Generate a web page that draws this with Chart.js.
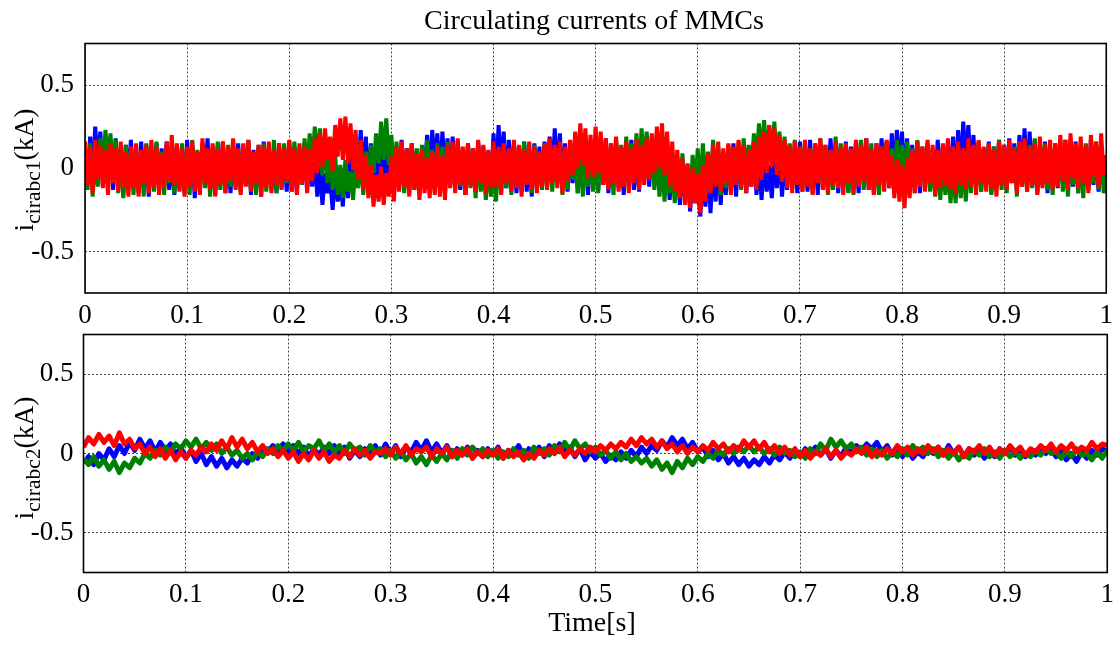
<!DOCTYPE html>
<html>
<head>
<meta charset="utf-8">
<script src="https://cdn.jsdelivr.net/npm/chart.js@4.4.1/dist/chart.umd.min.js"></script>
<style>
  html, body { margin: 0; padding: 0; background: #fff; }
  #wrap { position: relative; width: 1120px; height: 646px; overflow: hidden; background: #fff; }
  canvas { position: absolute; left: 0; top: 0; }
  .txt { position: absolute; font-family: "Liberation Serif", "Times New Roman", serif; color: #000; white-space: nowrap; }
  .title { font-size: 28px; line-height: 28px; }
  .ylab { font-size: 27.5px; line-height: 28px; transform: translate(-50%, -50%) rotate(-90deg); }
  .ylab .sb { font-size: 21.5px; position: relative; top: 7px; }
</style>
</head>
<body>
<div id="wrap">
  <canvas id="c1" width="1120" height="646"></canvas>
  <canvas id="c2" width="1120" height="646"></canvas>
  <div class="txt title" id="ttl" style="left:594px; top:6px; transform:translateX(-50%);">Circulating currents of MMCs</div>
  <div class="txt title" id="xlab" style="left:592px; top:608px; transform:translateX(-50%);">Time[s]</div>
  <div class="txt ylab" style="left:25px; top:170px;">i<span class="sb">cirabc1</span>(kA)</div>
  <div class="txt ylab" style="left:25px; top:458px;">i<span class="sb">cirabc2</span>(kA)</div>
</div>
<script>
// ---- data ----
const TIME_STEP_1 = 0.0025;   // sample step of MMC1 traces (401 samples, t = 0 ... 1 s)
const TIME_STEP_2 = 0.005;    // sample step of MMC2 traces (201 samples, t = 0 ... 1 s)
const xTicks = [0, 0.1, 0.2, 0.3, 0.4, 0.5, 0.6, 0.7, 0.8, 0.9, 1];
const xTickLabels = ['0', '0.1', '0.2', '0.3', '0.4', '0.5', '0.6', '0.7', '0.8', '0.9', '1'];
const yTicks = [-0.5, 0, 0.5];
const yTickLabels = ['-0.5', '0', '0.5'];

// MMC1 circulating currents (kA), one row = 0.05 s
const blue1 = [
  0.11, -0.09, 0.19, -0.05, 0.25, 0.02, 0.22, -0.11, 0.20, -0.07, 0.15, -0.13, 0.18, -0.09, 0.12, -0.16, 0.14, -0.04, 0.17, -0.12,
  0.10, -0.15, 0.16, -0.08, 0.13, -0.17, 0.09, -0.11, 0.15, -0.14, 0.12, -0.07, 0.16, -0.13, 0.08, -0.16, 0.14, -0.10, 0.11, -0.15,
  0.17, -0.09, 0.13, -0.18, 0.10, -0.12, 0.15, -0.08, 0.18, -0.14, 0.11, -0.16, 0.14, -0.10, 0.16, -0.13, 0.09, -0.15, 0.13, -0.11,
  0.15, -0.14, 0.12, -0.08, 0.17, -0.16, 0.11, -0.12, 0.14, -0.17, 0.16, -0.09, 0.13, -0.13, 0.10, -0.15, 0.15, -0.07, 0.12, -0.14,
  0.16, -0.10, 0.13, -0.15, 0.11, -0.08, 0.15, -0.13, 0.09, -0.11, 0.06, -0.17, 0.02, -0.22, -0.03, -0.15, -0.06, -0.25, -0.02, -0.20,
  -0.07, -0.23, 0.03, -0.18, 0.09, -0.11, 0.18, -0.05, 0.23, -0.08, 0.19, -0.13, 0.15, -0.09, 0.12, -0.15, 0.16, -0.07, 0.13, -0.12,
  0.14, -0.16, 0.11, -0.09, 0.17, -0.13, 0.12, -0.15, 0.15, -0.10, 0.09, -0.14, 0.13, -0.04, 0.20, -0.06, 0.23, 0.00, 0.21, -0.08,
  0.22, -0.04, 0.18, -0.11, 0.19, -0.09, 0.14, -0.13, 0.11, -0.16, 0.15, -0.10, 0.12, -0.14, 0.16, -0.08, 0.13, -0.15, 0.10, -0.11,
  0.21, -0.06, 0.26, -0.03, 0.22, -0.12, 0.17, -0.09, 0.14, -0.15, 0.12, -0.11, 0.16, -0.14, 0.11, -0.17, 0.15, -0.09, 0.13, -0.12,
  0.16, -0.10, 0.19, -0.05, 0.24, -0.07, 0.21, -0.11, 0.15, -0.14, 0.12, -0.09, 0.17, -0.15, 0.10, -0.12, 0.14, -0.16, 0.11, -0.08,
  0.15, -0.13, 0.12, -0.10, 0.18, -0.15, 0.13, -0.08, 0.16, -0.12, 0.10, -0.16, 0.14, -0.09, 0.17, -0.13, 0.11, -0.14, 0.15, -0.07,
  0.13, -0.11, 0.19, -0.08, 0.20, -0.13, 0.12, -0.16, 0.08, -0.19, 0.04, -0.15, 0.06, -0.22, -0.01, -0.18, 0.00, -0.26, -0.05, -0.21,
  -0.09, -0.29, -0.04, -0.23, 0.02, -0.27, 0.05, -0.20, 0.09, -0.22, 0.07, -0.16, 0.12, -0.13, 0.15, -0.17, 0.11, -0.09, 0.14, -0.15,
  0.12, -0.11, 0.15, -0.16, 0.04, -0.19, 0.08, -0.14, 0.02, -0.18, 0.07, -0.12, 0.11, -0.17, 0.05, -0.13, 0.14, -0.10, 0.12, -0.15,
  0.16, -0.09, 0.13, -0.14, 0.17, -0.12, 0.11, -0.16, 0.15, -0.08, 0.12, -0.13, 0.18, -0.10, 0.14, -0.15, 0.10, -0.11, 0.16, -0.14,
  0.13, -0.09, 0.17, -0.15, 0.12, -0.07, 0.18, -0.13, 0.11, -0.16, 0.15, -0.10, 0.18, -0.08, 0.16, -0.12, 0.21, -0.05, 0.23, -0.02,
  0.22, -0.09, 0.18, -0.13, 0.14, -0.11, 0.16, -0.15, 0.12, -0.08, 0.15, -0.13, 0.11, -0.10, 0.17, -0.14, 0.13, -0.07, 0.16, -0.12,
  0.19, -0.08, 0.23, -0.04, 0.28, 0.01, 0.26, -0.06, 0.20, -0.11, 0.15, -0.14, 0.12, -0.09, 0.16, -0.15, 0.13, -0.12, 0.17, -0.10,
  0.14, -0.13, 0.18, -0.08, 0.15, -0.12, 0.20, -0.05, 0.24, -0.09, 0.22, -0.11, 0.17, -0.14, 0.13, -0.10, 0.16, -0.15, 0.12, -0.08,
  0.15, -0.12, 0.13, -0.09, 0.17, -0.14, 0.11, -0.11, 0.16, -0.15, 0.14, -0.08, 0.12, -0.13, 0.17, -0.10, 0.15, -0.14, 0.11, -0.09,
  0.05
];
const green1 = [
  0.04, -0.13, 0.15, -0.17, 0.08, -0.11, 0.18, -0.03, 0.23, 0.04, 0.21, -0.09, 0.17, -0.15, 0.12, -0.18, 0.14, -0.10, 0.11, -0.16,
  0.13, -0.12, 0.09, -0.17, 0.15, -0.08, 0.12, -0.14, 0.16, -0.11, 0.10, -0.16, 0.14, -0.09, 0.13, -0.15, 0.08, -0.13, 0.15, -0.10,
  0.12, -0.16, 0.17, -0.09, 0.11, -0.14, 0.15, -0.12, 0.09, -0.17, 0.13, -0.08, 0.16, -0.13, 0.10, -0.15, 0.14, -0.11, 0.17, -0.09,
  0.11, -0.15, 0.14, -0.10, 0.16, -0.13, 0.09, -0.16, 0.13, -0.08, 0.15, -0.14, 0.12, -0.11, 0.17, -0.15, 0.10, -0.12, 0.15, -0.09,
  0.13, -0.14, 0.16, -0.07, 0.12, -0.10, 0.18, -0.03, 0.21, 0.01, 0.25, 0.04, 0.24, -0.04, 0.20, -0.09, 0.15, -0.13, 0.08, -0.16,
  0.02, -0.18, 0.05, -0.14, -0.02, -0.19, 0.04, -0.12, 0.08, -0.16, 0.10, -0.07, 0.14, -0.03, 0.21, 0.03, 0.28, 0.05, 0.30, 0.02,
  0.20, -0.06, 0.16, -0.12, 0.13, -0.15, 0.10, -0.09, 0.15, -0.13, 0.12, -0.16, 0.14, -0.08, 0.17, -0.12, 0.11, -0.14, 0.15, -0.10,
  0.13, -0.15, 0.16, -0.09, 0.12, -0.13, 0.17, -0.11, 0.10, -0.16, 0.14, -0.12, 0.09, -0.18, 0.11, -0.14, 0.06, -0.19, 0.04, -0.17,
  0.07, -0.20, 0.11, -0.15, 0.14, -0.12, 0.09, -0.16, 0.15, -0.10, 0.13, -0.14, 0.16, -0.09, 0.11, -0.15, 0.14, -0.12, 0.10, -0.13,
  0.15, -0.11, 0.17, -0.14, 0.12, -0.09, 0.14, -0.16, 0.10, -0.13, 0.16, -0.07, 0.13, -0.15, 0.11, -0.17, 0.15, -0.11, 0.13, -0.14,
  0.12, -0.15, 0.16, -0.09, 0.11, -0.13, 0.15, -0.16, 0.18, -0.10, 0.14, -0.07, 0.19, -0.11, 0.15, -0.03, 0.21, -0.05, 0.24, 0.00,
  0.22, -0.04, 0.17, -0.13, 0.10, -0.17, 0.04, -0.20, 0.07, -0.15, 0.01, -0.21, 0.05, -0.18, 0.09, -0.15, 0.02, -0.19, 0.08, -0.13,
  0.12, -0.16, 0.15, -0.11, 0.10, -0.14, 0.17, -0.09, 0.13, -0.16, 0.07, -0.12, 0.14, -0.15, 0.11, -0.09, 0.16, -0.13, 0.18, -0.05,
  0.14, -0.02, 0.21, 0.03, 0.27, 0.06, 0.29, 0.04, 0.26, 0.02, 0.28, 0.00, 0.22, -0.04, 0.19, -0.08, 0.15, -0.12, 0.17, -0.07,
  0.13, -0.14, 0.16, -0.10, 0.12, -0.15, 0.15, -0.08, 0.18, -0.12, 0.14, -0.16, 0.11, -0.13, 0.19, -0.09, 0.15, -0.11, 0.13, -0.15,
  0.11, -0.16, 0.14, -0.10, 0.17, -0.13, 0.12, -0.08, 0.15, -0.14, 0.10, -0.16, 0.13, -0.11, 0.16, -0.09, 0.12, -0.15, 0.17, -0.12,
  0.14, -0.09, 0.16, -0.13, 0.12, -0.15, 0.17, -0.10, 0.13, -0.12, 0.15, -0.14, 0.08, -0.17, 0.10, -0.19, 0.05, -0.16, 0.02, -0.21,
  0.01, -0.21, 0.06, -0.18, 0.03, -0.20, 0.10, -0.15, 0.13, -0.12, 0.16, -0.14, 0.12, -0.10, 0.15, -0.16, 0.13, -0.11, 0.17, -0.13,
  0.12, -0.15, 0.15, -0.09, 0.13, -0.17, 0.16, -0.11, 0.10, -0.14, 0.14, -0.12, 0.18, -0.15, 0.12, -0.09, 0.15, -0.13, 0.11, -0.16,
  0.14, -0.11, 0.16, -0.14, 0.12, -0.17, 0.17, -0.10, 0.13, -0.15, 0.11, -0.18, 0.15, -0.12, 0.14, -0.09, 0.16, -0.13, 0.12, -0.15,
  -0.05
];
const red1 = [
  0.16, -0.10, 0.13, -0.15, 0.17, -0.07, 0.14, -0.12, 0.11, -0.16, 0.15, -0.09, 0.12, -0.14, 0.16, -0.11, 0.10, -0.17, 0.13, -0.12,
  0.15, -0.17, 0.11, -0.09, 0.14, -0.15, 0.17, -0.11, 0.13, -0.16, 0.09, -0.12, 0.16, -0.08, 0.20, -0.10, 0.15, -0.14, 0.12, -0.17,
  0.13, -0.11, 0.16, -0.14, 0.10, -0.16, 0.18, -0.09, 0.12, -0.13, 0.15, -0.17, 0.11, -0.10, 0.16, -0.15, 0.13, -0.08, 0.18, -0.13,
  0.12, -0.16, 0.15, -0.11, 0.17, -0.14, 0.10, -0.09, 0.14, -0.17, 0.13, -0.12, 0.16, -0.15, 0.11, -0.10, 0.15, -0.13, 0.12, -0.08,
  0.17, -0.14, 0.12, -0.16, 0.15, -0.09, 0.13, -0.15, 0.11, -0.08, 0.18, -0.03, 0.21, 0.01, 0.24, 0.05, 0.19, -0.02, 0.26, 0.07,
  0.30, 0.05, 0.31, 0.03, 0.27, -0.01, 0.23, -0.07, 0.17, -0.13, 0.08, -0.18, 0.02, -0.23, -0.04, -0.20, 0.01, -0.22, -0.03, -0.17,
  0.07, -0.20, 0.13, -0.14, 0.16, -0.11, 0.12, -0.17, 0.15, -0.13, 0.09, -0.19, 0.11, -0.15, 0.06, -0.18, 0.10, -0.16, 0.13, -0.17,
  0.08, -0.19, 0.14, -0.12, 0.16, -0.15, 0.18, -0.10, 0.13, -0.16, 0.15, -0.11, 0.12, -0.14, 0.17, -0.09, 0.14, -0.15, 0.11, -0.12,
  0.16, -0.11, 0.13, -0.16, 0.15, -0.09, 0.12, -0.14, 0.17, -0.12, 0.14, -0.17, 0.11, -0.10, 0.16, -0.13, 0.13, -0.15, 0.10, -0.11,
  0.15, -0.13, 0.18, -0.09, 0.14, -0.12, 0.16, -0.15, 0.13, -0.08, 0.17, -0.04, 0.22, 0.00, 0.27, 0.02, 0.24, -0.06, 0.20, -0.05,
  0.25, -0.03, 0.22, -0.10, 0.18, -0.13, 0.15, -0.09, 0.19, -0.14, 0.13, -0.11, 0.16, -0.15, 0.12, -0.09, 0.17, -0.13, 0.14, -0.10,
  0.18, -0.07, 0.21, -0.03, 0.25, 0.00, 0.27, -0.04, 0.22, -0.10, 0.16, -0.14, 0.11, -0.18, 0.06, -0.22, 0.03, -0.24, 0.00, -0.21,
  -0.03, -0.27, 0.02, -0.20, 0.09, -0.15, 0.14, -0.11, 0.16, -0.14, 0.12, -0.09, 0.15, -0.16, 0.13, -0.10, 0.17, -0.12, 0.14, -0.15,
  0.11, -0.11, 0.16, -0.13, 0.19, -0.07, 0.22, -0.03, 0.26, 0.01, 0.24, -0.04, 0.20, -0.08, 0.17, -0.12, 0.14, -0.15, 0.16, -0.10,
  0.13, -0.14, 0.17, -0.11, 0.12, -0.16, 0.15, -0.09, 0.18, -0.13, 0.14, -0.15, 0.11, -0.10, 0.16, -0.12, 0.13, -0.16, 0.15, -0.09,
  0.12, -0.15, 0.17, -0.11, 0.14, -0.08, 0.18, -0.13, 0.11, -0.16, 0.15, -0.10, 0.13, -0.14, 0.17, -0.12, 0.08, -0.18, 0.05, -0.20,
  0.02, -0.24, 0.06, -0.18, 0.11, -0.15, 0.16, -0.11, 0.13, -0.14, 0.17, -0.09, 0.14, -0.16, 0.11, -0.12, 0.15, -0.10, 0.18, -0.13,
  0.13, -0.15, 0.16, -0.10, 0.12, -0.13, 0.18, -0.11, 0.14, -0.16, 0.17, -0.09, 0.13, -0.14, 0.15, -0.12, 0.11, -0.17, 0.16, -0.10,
  0.14, -0.13, 0.17, -0.09, 0.12, -0.15, 0.16, -0.11, 0.18, -0.14, 0.13, -0.10, 0.15, -0.16, 0.19, -0.12, 0.14, -0.09, 0.17, -0.13,
  0.15, -0.11, 0.20, -0.08, 0.17, -0.13, 0.21, -0.06, 0.15, -0.12, 0.19, -0.09, 0.14, -0.15, 0.20, -0.05, 0.16, -0.11, 0.21, -0.04,
  0.08
];

// MMC2 circulating currents (kA), one row = 0.05 s
const blue2 = [
  -0.06, -0.02, -0.07, 0.00, -0.04, 0.03, -0.02, 0.05, 0.00, 0.07,
  0.02, 0.09, 0.03, 0.08, 0.01, 0.07, 0.02, 0.06, -0.01, 0.04,
  -0.03, 0.02, -0.05, 0.00, -0.07, -0.02, -0.08, -0.03, -0.09, -0.04,
  -0.08, -0.03, -0.06, 0.00, -0.03, 0.03, 0.01, 0.05, 0.02, 0.06,
  0.01, 0.05, 0.00, 0.04, -0.02, 0.03, -0.01, 0.04, 0.00, 0.05,
  -0.01, 0.04, -0.03, 0.02, -0.02, 0.03, 0.00, 0.05, -0.01, 0.06,
  0.00, 0.05, -0.02, 0.04, 0.01, 0.07, 0.02, 0.08, 0.01, 0.06,
  0.00, 0.05, -0.02, 0.03, -0.01, 0.04, -0.03, 0.02, -0.02, 0.03,
  -0.01, 0.04, -0.03, 0.02, 0.00, 0.05, -0.02, 0.03, -0.01, 0.04,
  -0.02, 0.05, 0.00, 0.06, 0.01, 0.04, -0.02, 0.03, -0.04, 0.01,
  -0.03, 0.00, -0.05, -0.01, -0.04, 0.01, -0.03, 0.02, -0.02, 0.04,
  0.00, 0.05, 0.02, 0.08, 0.04, 0.10, 0.05, 0.09, 0.03, 0.07,
  0.01, 0.04, -0.02, 0.02, -0.04, 0.00, -0.06, -0.02, -0.07, -0.03,
  -0.08, -0.04, -0.07, -0.02, -0.06, -0.01, -0.04, 0.01, -0.03, 0.02,
  -0.02, 0.03, 0.00, 0.04, -0.01, 0.03, -0.03, 0.02, -0.02, 0.04,
  0.00, 0.05, 0.02, 0.06, 0.03, 0.07, 0.01, 0.05, -0.01, 0.04,
  -0.02, 0.03, -0.03, 0.01, -0.02, 0.03, 0.00, 0.04, -0.01, 0.05,
  0.00, 0.04, -0.02, 0.03, -0.01, 0.02, -0.03, 0.01, -0.02, 0.03,
  0.00, 0.04, -0.01, 0.03, -0.02, 0.02, -0.01, 0.04, 0.00, 0.03,
  -0.02, 0.02, -0.04, 0.00, -0.05, 0.01, -0.03, 0.02, -0.01, 0.03,
  0.01
];
const green2 = [
  -0.03, -0.07, -0.02, -0.08, -0.04, -0.10, -0.05, -0.12, -0.06, -0.09,
  -0.03, -0.06, 0.00, -0.03, 0.02, -0.01, 0.04, 0.01, 0.06, 0.03,
  0.08, 0.04, 0.09, 0.03, 0.07, 0.02, 0.06, 0.00, 0.04, -0.01,
  0.02, -0.03, 0.00, -0.04, 0.01, -0.02, 0.03, 0.00, 0.05, 0.02,
  0.06, 0.02, 0.07, 0.01, 0.05, 0.03, 0.08, 0.02, 0.06, 0.01,
  0.05, 0.00, 0.06, 0.02, 0.04, -0.01, 0.05, 0.01, 0.03, -0.02,
  0.02, -0.03, 0.01, -0.04, 0.00, -0.06, -0.02, -0.07, -0.01, -0.05,
  0.00, -0.04, 0.02, -0.03, 0.03, -0.01, 0.04, 0.00, 0.03, -0.02,
  0.02, -0.03, 0.01, -0.02, 0.03, -0.01, 0.02, -0.03, 0.04, 0.00,
  0.03, -0.01, 0.05, 0.01, 0.07, 0.02, 0.08, 0.03, 0.06, 0.01,
  0.04, -0.01, 0.02, -0.03, 0.01, -0.04, 0.00, -0.05, -0.02, -0.06,
  -0.03, -0.08, -0.04, -0.10, -0.06, -0.12, -0.05, -0.09, -0.03, -0.07,
  -0.02, -0.05, 0.00, -0.03, 0.02, -0.01, 0.03, 0.00, 0.04, 0.01,
  0.05, 0.01, 0.04, 0.00, 0.03, -0.01, 0.04, 0.00, 0.02, -0.02,
  0.01, -0.03, 0.03, 0.00, 0.06, 0.02, 0.09, 0.04, 0.08, 0.03,
  0.06, 0.01, 0.04, -0.01, 0.03, -0.02, 0.02, -0.03, 0.01, -0.02,
  0.03, -0.01, 0.05, 0.01, 0.04, 0.00, 0.03, -0.02, 0.02, -0.03,
  0.01, -0.04, 0.00, -0.03, 0.02, -0.01, 0.03, -0.02, 0.01, -0.03,
  0.02, -0.02, 0.01, -0.03, 0.00, -0.02, 0.02, -0.01, 0.03, 0.00,
  0.01, -0.03, 0.02, -0.02, 0.03, -0.01, 0.00, -0.04, 0.01, -0.03,
  0.02
];
const red2 = [
  0.04, 0.10, 0.06, 0.12, 0.07, 0.11, 0.05, 0.13, 0.06, 0.09,
  0.03, 0.06, 0.00, 0.04, -0.02, 0.03, -0.03, 0.02, -0.04, 0.01,
  -0.03, 0.02, -0.01, 0.04, 0.01, 0.06, 0.02, 0.08, 0.03, 0.10,
  0.04, 0.09, 0.03, 0.07, 0.01, 0.05, 0.00, 0.03, -0.02, 0.02,
  -0.03, 0.01, -0.05, 0.00, -0.04, 0.02, -0.03, 0.01, -0.05, -0.01,
  -0.03, 0.02, -0.02, 0.03, -0.01, 0.02, -0.03, 0.01, 0.00, 0.03,
  -0.01, 0.04, 0.00, 0.05, -0.01, 0.03, 0.01, 0.04, -0.02, 0.03,
  0.00, 0.04, -0.02, 0.02, -0.01, 0.03, -0.03, 0.01, -0.02, 0.02,
  -0.01, 0.03, -0.03, 0.02, -0.02, 0.01, -0.04, 0.00, -0.03, 0.02,
  -0.01, 0.03, 0.00, 0.04, -0.02, 0.02, -0.01, 0.03, 0.00, 0.04,
  0.01, 0.05, 0.02, 0.06, 0.03, 0.07, 0.04, 0.09, 0.05, 0.10,
  0.06, 0.09, 0.04, 0.08, 0.03, 0.06, 0.01, 0.05, 0.00, 0.04,
  0.01, 0.05, 0.02, 0.07, 0.03, 0.06, 0.01, 0.05, 0.02, 0.08,
  0.04, 0.08, 0.03, 0.07, 0.01, 0.05, 0.00, 0.04, -0.01, 0.03,
  -0.02, 0.02, -0.03, 0.01, -0.01, 0.03, -0.02, 0.02, -0.03, 0.01,
  -0.01, 0.03, 0.00, 0.04, -0.02, 0.02, -0.01, 0.03, 0.00, 0.05,
  0.01, 0.04, -0.01, 0.03, 0.00, 0.05, 0.01, 0.04, -0.01, 0.03,
  0.00, 0.04, -0.02, 0.03, 0.01, 0.05, 0.00, 0.04, -0.01, 0.03,
  0.00, 0.05, 0.01, 0.04, -0.01, 0.03, 0.01, 0.05, 0.02, 0.06,
  0.01, 0.05, 0.02, 0.06, 0.01, 0.04, 0.02, 0.07, 0.03, 0.06,
  0.05
];

// ---- chart construction ----
const FONT = '"Liberation Serif", "Times New Roman", serif';
function toXY(arr, step) { return arr.map((v, i) => ({ x: i * step, y: v })); }

const framePlugin = {
  id: 'frame',
  afterDraw(chart) {
    const a = chart.chartArea, ctx = chart.ctx;
    ctx.save();
    ctx.strokeStyle = '#000';
    ctx.lineWidth = 1.6;
    ctx.setLineDash([]);
    ctx.strokeRect(a.left, a.top, a.right - a.left, a.bottom - a.top);
    ctx.restore();
  }
};

function makeChart(id, blue, green, red, geom) {
  const mk = (arr, color) => ({
    data: toXY(arr, geom.step), borderColor: color, backgroundColor: color,
    borderWidth: geom.lw, pointRadius: 0, tension: 0, fill: false,
    borderJoinStyle: geom.join, borderCapStyle: 'butt'
  });
  return new Chart(document.getElementById(id), {
    type: 'line',
    data: { datasets: [mk(red, '#ff0000'), mk(green, '#008000'), mk(blue, '#0000ff')] },
    options: {
      responsive: false, animation: false, devicePixelRatio: 1,
      layout: { padding: { left: 0, right: geom.right, top: geom.top, bottom: geom.bottom } },
      plugins: { legend: { display: false }, tooltip: { enabled: false }, title: { display: false } },
      scales: {
        x: {
          type: 'linear', min: 0, max: 1,
          afterFit(s) { s.height = 40; },
          afterBuildTicks(s) { s.ticks = xTicks.map(v => ({ value: v })); },
          ticks: { color: '#000', font: { family: FONT, size: 27 }, padding: geom.xpad, maxRotation: 0, autoSkip: false,
            callback: (v, i) => xTickLabels[i] },
          grid: { color: '#444', lineWidth: 1, drawTicks: false },
          border: { display: false, dash: [2, 2] }
        },
        y: {
          type: 'linear', min: -0.75, max: 0.75,
          afterFit(s) { s.width = geom.left; },
          afterBuildTicks(s) { s.ticks = yTicks.map(v => ({ value: v })); },
          ticks: { color: '#000', font: { family: FONT, size: 27 }, padding: geom.ypad,
            callback: (v, i) => yTickLabels[i] },
          grid: { color: '#444', lineWidth: 1, drawTicks: false },
          border: { display: false, dash: [2, 2] }
        }
      }
    },
    plugins: [framePlugin]
  });
}

makeChart('c1', blue1, green1, red1, { step: TIME_STEP_1, left: 85, right: 12, top: 43.5, bottom: 646 - 293 - 40, xpad: 7, ypad: 11, lw: 4, join: 'bevel' });
makeChart('c2', blue2, green2, red2, { step: TIME_STEP_2, left: 83.5, right: 12, top: 334.5, bottom: 646 - 572.5 - 40, xpad: 6, ypad: 10, lw: 5, join: 'round' });
</script>
</body>
</html>
